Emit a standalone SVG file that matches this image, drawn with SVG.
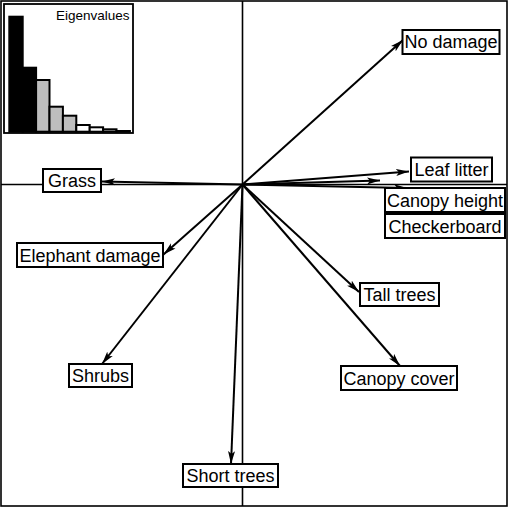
<svg xmlns="http://www.w3.org/2000/svg" width="510" height="508" viewBox="0 0 510 508">
<style>
.lbl{font-family:"Liberation Sans",Arial,sans-serif;font-size:18px;fill:#000;text-anchor:middle}
.box{fill:#fff;stroke:#000;stroke-width:2}
.arr{stroke:#000;stroke-width:2;fill:none;marker-end:url(#ah)}
.axis{stroke:#000;stroke-width:1.6;fill:none}
.bar{stroke:#000;stroke-width:2}
</style>
<defs>
<marker id="ah" viewBox="0 0 13 8" refX="13" refY="4" markerWidth="13" markerHeight="8" markerUnits="userSpaceOnUse" orient="auto">
<path d="M0,0.5 L13,4 L0,7.5 L3,4 z" fill="#000"/>
</marker>
</defs>
<rect x="0" y="0" width="510" height="508" fill="#fff"/>
<rect x="1" y="1" width="506" height="505" class="axis"/>
<g id="axes">
<line x1="1" y1="184.5" x2="507" y2="184.5" class="axis"/>
<line x1="242.5" y1="1" x2="242.5" y2="506" class="axis"/>
</g>
<g id="inset">
<rect x="4" y="4" width="129" height="129" fill="#fff" stroke="#000" stroke-width="1.8"/>
<rect x="9.3" y="16.7" width="13.4" height="115" class="bar" fill="#000"/>
<rect x="22.7" y="67.7" width="13.4" height="64" class="bar" fill="#000"/>
<rect x="36.1" y="80" width="13.4" height="51.7" class="bar" fill="#bebebe"/>
<rect x="49.5" y="106.7" width="13.4" height="25" class="bar" fill="#bebebe"/>
<rect x="62.9" y="115.7" width="13.4" height="16" class="bar" fill="#bebebe"/>
<rect x="76.3" y="125" width="13.4" height="6.7" class="bar" fill="#fff"/>
<rect x="89.7" y="127.3" width="13.4" height="4.4" class="bar" fill="#fff"/>
<rect x="103.1" y="129.3" width="13.4" height="2.4" class="bar" fill="#fff"/>
<rect x="116.5" y="131" width="13.4" height="0.7" class="bar" fill="#fff"/>
<text x="129.5" y="20" font-family="Liberation Sans, Arial, sans-serif" font-size="13.5" text-anchor="end">Eigenvalues</text>
</g>
<g id="connectors">
<line x1="242.5" y1="184.5" x2="403" y2="40" class="arr"/>
<line x1="242.5" y1="184.5" x2="409" y2="171.5" class="arr"/>
<line x1="242.5" y1="184.5" x2="380" y2="180.5" class="arr"/>
<line x1="242.5" y1="184.5" x2="407" y2="188" class="arr"/>
<line x1="242.5" y1="184.5" x2="102" y2="181.5" class="arr"/>
<line x1="242.5" y1="184.5" x2="163.5" y2="254.5" class="arr"/>
<line x1="242.5" y1="184.5" x2="102" y2="364" class="arr"/>
<line x1="242.5" y1="184.5" x2="231" y2="464" class="arr"/>
<line x1="242.5" y1="184.5" x2="359" y2="292" class="arr"/>
<line x1="242.5" y1="184.5" x2="400" y2="366" class="arr"/>
</g>
<g id="no-damage"><rect x="402.5" y="30" width="97" height="24" class="box"/><text x="451" y="48" class="lbl">No damage</text></g>
<g id="leaf-litter"><rect x="411" y="157.5" width="81" height="24" class="box"/><text x="451.5" y="176" class="lbl">Leaf litter</text></g>
<g id="canopy-height"><rect x="385" y="188" width="120" height="24" class="box"/><text x="445" y="206.5" class="lbl">Canopy height</text></g>
<g id="checkerboard"><rect x="385" y="214" width="120" height="24" class="box"/><text x="445" y="232.5" class="lbl">Checkerboard</text></g>
<g id="grass"><rect x="43" y="169" width="58" height="23" class="box"/><text x="72" y="187" class="lbl">Grass</text></g>
<g id="elephant-damage"><rect x="17" y="243" width="146" height="24" class="box"/><text x="90" y="261.5" class="lbl">Elephant damage</text></g>
<g id="tall-trees"><rect x="360" y="283" width="79" height="23" class="box"/><text x="399.5" y="301" class="lbl">Tall trees</text></g>
<g id="shrubs"><rect x="69" y="364" width="63" height="23" class="box"/><text x="100.5" y="382" class="lbl">Shrubs</text></g>
<g id="canopy-cover"><rect x="341" y="366" width="116" height="24" class="box"/><text x="399" y="384.5" class="lbl">Canopy cover</text></g>
<g id="short-trees"><rect x="183" y="464" width="95" height="23" class="box"/><text x="230.5" y="482" class="lbl">Short trees</text></g>
</svg>
